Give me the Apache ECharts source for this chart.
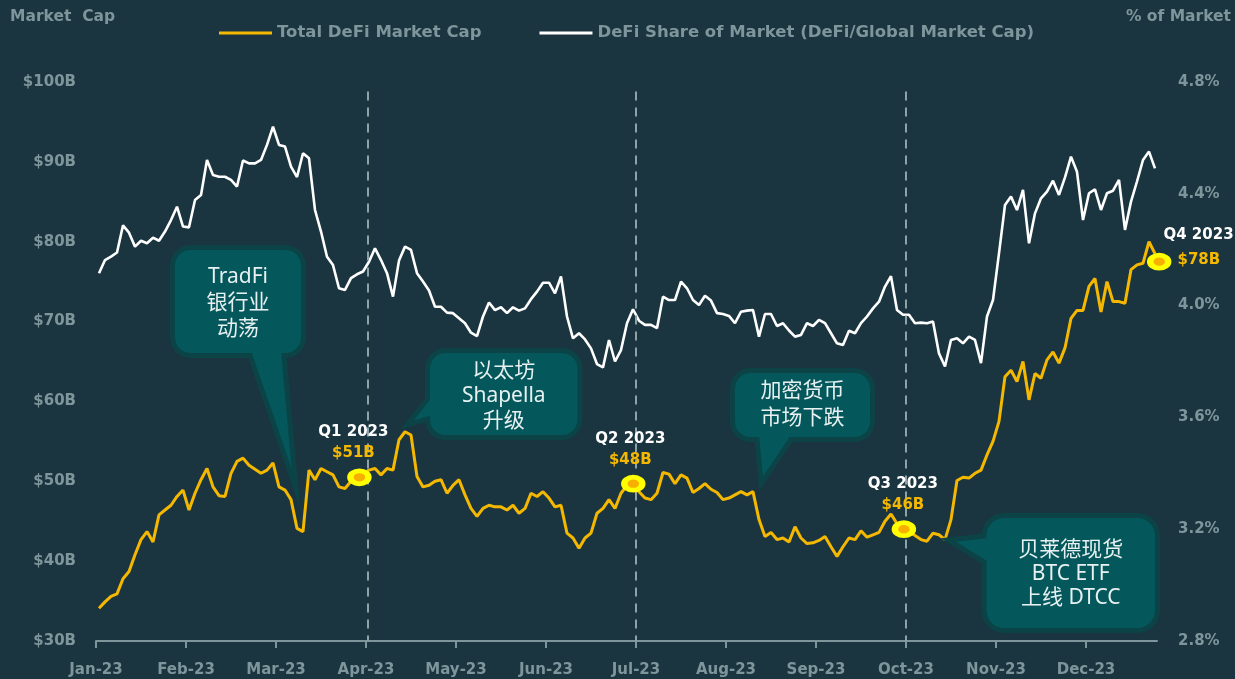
<!DOCTYPE html>
<html>
<head>
<meta charset="utf-8">
<title>DeFi Market Cap 2023</title>
<script src="https://cdn.jsdelivr.net/npm/echarts@6.0.0/dist/echarts.min.js"></script>
<style>
  html, body { margin: 0; padding: 0; background: #1b3540; }
  #chart { width: 1235px; height: 679px; }
</style>
</head>
<body>
<div id="chart"></div>
<script>
/* ---- data (one reading every 2 days) ---- */

// sample grid: day 1, 3, 5 ... 353 of 2023
const days = [];
for (let d = 1; d <= 353; d += 2) days.push(d);

// Total DeFi Market Cap, $B
const defiCap = [
  34.1, 34.9, 35.6, 35.9, 37.8, 38.7, 40.8, 42.7, 43.7, 42.4,
  45.8, 46.4, 47.0, 48.1, 48.9, 46.4, 48.5, 50.2, 51.6, 49.3,
  48.2, 48.1, 51.0, 52.5, 52.9, 52.0, 51.5, 51.0, 51.4, 52.3,
  49.3, 48.9, 47.7, 44.1, 43.7, 51.4, 50.2, 51.6, 51.2, 50.8,
  49.3, 49.1, 50.0, 50.6, 50.9,
  51.4, 51.6, 50.8, 51.6, 51.4, 55.2, 56.2, 55.8, 50.6, 49.3,
  49.5, 50.0, 50.2, 48.5, 49.5, 50.2, 48.3, 46.6, 45.6, 46.6,
  47.0, 46.8, 46.8, 46.4, 47.0, 46.0, 46.6, 48.5, 48.1, 48.7,
  47.9, 46.8, 47.0, 43.5, 42.9, 41.6, 42.9, 43.5, 46.0, 46.6,
  47.7, 46.6, 48.5, 49.5, 50.0,
  48.7, 47.9, 47.7, 48.5, 51.1, 50.9, 49.7, 50.8, 50.4, 48.6,
  49.1, 49.7, 49.0, 48.6, 47.7, 47.9, 48.3, 48.7, 48.3, 48.7,
  45.2, 43.1, 43.6, 42.7, 42.9, 42.4, 44.3, 42.9, 42.2, 42.3,
  42.6, 43.1, 41.8, 40.6, 41.8, 42.9, 42.7, 43.8, 43.0, 43.3,
  43.6, 45.0, 45.9, 44.7, 44.1,
  43.7, 43.2, 42.7, 42.5, 43.5, 43.3, 42.7, 45.2, 50.1, 50.5,
  50.4, 51.0, 51.4, 53.3, 55.0, 57.5, 63.1, 63.9, 62.5, 65.0,
  60.2, 63.5, 62.9, 65.2, 66.2, 64.8, 66.7, 70.4, 71.4, 71.4,
  74.4, 75.4, 71.2, 75.0, 72.5, 72.5, 72.3, 76.5, 77.1, 77.3,
  80.0, 78.5
];

// DeFi share of global crypto market cap, %
const defiShare = [
  4.116, 4.163, 4.175, 4.190, 4.287, 4.261, 4.211, 4.232, 4.223, 4.243,
  4.232, 4.265, 4.306, 4.354, 4.283, 4.280, 4.378, 4.396, 4.521, 4.467,
  4.461, 4.461, 4.450, 4.426, 4.519, 4.509, 4.509, 4.521, 4.575, 4.640,
  4.575, 4.569, 4.497, 4.460, 4.545, 4.527, 4.342, 4.265, 4.175, 4.145,
  4.062, 4.056, 4.098, 4.112, 4.122,
  4.157, 4.205, 4.163, 4.116, 4.032, 4.161, 4.211, 4.199, 4.116, 4.086,
  4.054, 3.996, 3.996, 3.975, 3.973, 3.955, 3.937, 3.903, 3.891, 3.961,
  4.011, 3.984, 3.994, 3.973, 3.994, 3.982, 3.990, 4.023, 4.050, 4.082,
  4.082, 4.044, 4.104, 3.961, 3.883, 3.901, 3.879, 3.847, 3.791, 3.779,
  3.877, 3.800, 3.841, 3.937, 3.987,
  3.946, 3.931, 3.931, 3.919, 4.032, 4.020, 4.020, 4.086, 4.062, 4.020,
  4.002, 4.035, 4.018, 3.973, 3.970, 3.963, 3.937, 3.978, 3.982, 3.984,
  3.889, 3.970, 3.970, 3.927, 3.937, 3.911, 3.889, 3.895, 3.937, 3.927,
  3.949, 3.937, 3.901, 3.865, 3.859, 3.910, 3.901, 3.937, 3.961, 3.990,
  4.014, 4.068, 4.105, 3.984, 3.967,
  3.967, 3.937, 3.939, 3.937, 3.943, 3.829, 3.782, 3.877, 3.883, 3.865,
  3.889, 3.877, 3.794, 3.961, 4.020, 4.187, 4.360, 4.390, 4.342, 4.414,
  4.223, 4.330, 4.384, 4.408, 4.447, 4.396, 4.459, 4.533, 4.479, 4.306,
  4.402, 4.416, 4.342, 4.402, 4.411, 4.450, 4.271, 4.372, 4.444, 4.521,
  4.551, 4.491
];

// x axis ticks (every 30 days) and their labels
const monthTicks = [0, 30, 60, 90, 120, 150, 180, 210, 240, 270, 300, 330];
const monthLabels = ['Jan-23', 'Feb-23', 'Mar-23', 'Apr-23', 'May-23', 'Jun-23',
                     'Jul-23', 'Aug-23', 'Sep-23', 'Oct-23', 'Nov-23', 'Dec-23'];

// quarter-end markers
const quarterDays   = [87.8, 179.1, 269.3, 354.4];
const quarterCaps   = [50.5, 49.7, 44.0, 77.5];
const quarterNames  = ['Q1 2023', 'Q2 2023', 'Q3 2023', 'Q4 2023'];
const quarterValues = ['$51B', '$48B', '$46B', '$78B'];

// dashed quarter separators
const quarterLines = [90.5, 180, 270];

/* ---- styles ---- */
const BG = '#1b3540';
const GREY = '#7d959b';
const YELLOW = '#f5b800';
const AXIS_FONT = "'DejaVu Sans', sans-serif";
const NOTE_FONT = "'Noto Sans', 'Noto Sans CJK SC', sans-serif";
const BOX_FILL = '#04575b';
const BOX_EDGE = '#0b4346';

// callout bubbles (annotation layer, pixel placed)
const callouts = [
  { lines: ['TradFi', '银行业', '动荡'], x: 172.5, y: 247.5, w: 131, h: 108, r: 18,
    tail: { side: 'bottom', a: 250, b: 284, tip: [296, 489] }, textY: 303, lh: 26 },
  { lines: ['以太坊', 'Shapella', '升级'], x: 427.5, y: 350.5, w: 152.5, h: 87, r: 18,
    tail: { side: 'left', a: 399, b: 419, tip: [407, 425] }, textY: 396, lh: 25 },
  { lines: ['加密货币', '市场下跌'], x: 732.5, y: 370.5, w: 140, h: 69, r: 18,
    tail: { side: 'bottom', a: 757, b: 791, tip: [761, 484] }, textY: 405, lh: 27 },
  { lines: ['贝莱德现货', 'BTC ETF', '上线 DTCC'], x: 984, y: 515.5, w: 173.5, h: 115, r: 20,
    tail: { side: 'left', a: 536, b: 562, tip: [948, 540] }, textY: 574, lh: 24 }
];

// rounded box + pointer as one polygon outline
function bubblePoints(c) {
  const { x, y, w, h, r, tail } = c;
  const pts = [];
  const arc = (cx, cy, a0) => {
    for (let k = 0; k <= 8; k++) {
      const t = (a0 + k * 90 / 8) * Math.PI / 180;
      pts.push([cx + r * Math.cos(t), cy + r * Math.sin(t)]);
    }
  };
  arc(x + r, y + r, 180);
  arc(x + w - r, y + r, 270);
  arc(x + w - r, y + h - r, 0);
  if (tail.side === 'bottom') pts.push([tail.b, y + h], tail.tip, [tail.a, y + h]);
  arc(x + r, y + h - r, 90);
  if (tail.side === 'left') pts.push([x, tail.b], tail.tip, [x, tail.a]);
  return pts;
}

const graphics = [
  { type: 'text', x: 10, y: 17, z: 100,
    style: { text: 'Market  Cap', fill: GREY, font: `bold 15.5px ${AXIS_FONT}`, verticalAlign: 'middle' } },
  { type: 'text', x: 1231, y: 17, z: 100,
    style: { text: '% of Market', fill: GREY, font: `bold 15.5px ${AXIS_FONT}`, align: 'right', verticalAlign: 'middle' } }
];
callouts.forEach(c => {
  graphics.push({
    type: 'polygon', z: 100, shape: { points: bubblePoints(c) },
    style: { fill: BOX_FILL, stroke: BOX_EDGE, lineWidth: 5, lineJoin: 'miter' }
  });
  graphics.push({
    type: 'text', z: 101, x: c.x + c.w / 2, y: c.textY,
    style: {
      text: c.lines.join('\n'), fill: '#e8f1f1', font: `21px ${NOTE_FONT}`,
      lineHeight: c.lh, align: 'center', verticalAlign: 'middle'
    }
  });
});

// small horizontal nudges so the labels sit where the reference has them
const quarterLabelShift = [-6, -3, -1, 0];

const chart = echarts.init(document.getElementById('chart'), null, { renderer: 'canvas' });

chart.setOption({
  backgroundColor: BG,
  animation: false,
  grid: { left: 96, right: 78, top: 82, bottom: 38, containLabel: false },
  legend: {
    left: 219, top: 23, padding: 0,
    itemWidth: 53, itemHeight: 3, itemGap: 58,
    icon: 'rect',
    data: ['Total DeFi Market Cap', 'DeFi Share of Market (DeFi/Global Market Cap)'],
    textStyle: { color: GREY, fontFamily: AXIS_FONT, fontWeight: 'bold', fontSize: 16.5, lineHeight: 20 }
  },
  xAxis: {
    type: 'value', min: 0, max: 353.67,
    splitLine: { show: false },
    axisLine: { show: true, lineStyle: { color: GREY, width: 2 } },
    axisTick: { show: true, length: 7, lineStyle: { color: GREY, width: 2 }, customValues: monthTicks },
    axisLabel: {
      customValues: monthTicks, margin: 22,
      color: GREY, fontFamily: AXIS_FONT, fontWeight: 'bold', fontSize: 15,
      formatter: v => monthLabels[Math.round(v / 30)] || ''
    }
  },
  yAxis: [
    {
      type: 'value', min: 30, max: 100, interval: 10,
      splitLine: { show: false }, axisLine: { show: false }, axisTick: { show: false },
      axisLabel: { margin: 20, color: GREY, fontFamily: AXIS_FONT, fontWeight: 'bold', fontSize: 15,
                   formatter: v => '$' + v + 'B' }
    },
    {
      type: 'value', min: 2.8, max: 4.8, interval: 0.4,
      splitLine: { show: false }, axisLine: { show: false }, axisTick: { show: false },
      axisLabel: { margin: 21, color: GREY, fontFamily: AXIS_FONT, fontWeight: 'bold', fontSize: 15,
                   formatter: v => v.toFixed(1) + '%' }
    }
  ],
  graphic: graphics,
  series: [
    {
      // quarter separators only
      type: 'line', data: [], z: 1, silent: true,
      markLine: {
        silent: true, symbol: 'none', label: { show: false },
        lineStyle: { color: '#8ea3a8', type: [9, 7], width: 2 },
        data: quarterLines.map(d => [{ coord: [d, 98.8] }, { coord: [d, 30] }])
      }
    },
    {
      name: 'Total DeFi Market Cap', type: 'line', yAxisIndex: 0,
      data: days.map((d, i) => [d, defiCap[i]]),
      symbol: 'none', color: YELLOW, z: 3,
      lineStyle: { color: YELLOW, width: 3 }
    },
    {
      name: 'DeFi Share of Market (DeFi/Global Market Cap)', type: 'line', yAxisIndex: 1,
      data: days.map((d, i) => [d, defiShare[i]]),
      symbol: 'none', color: '#ffffff', z: 2,
      lineStyle: { color: '#ffffff', width: 2.6 }
    },
    {
      type: 'scatter', yAxisIndex: 0, z: 5, clip: false, silent: true,
      symbol: 'circle', symbolSize: [18, 13],
      itemStyle: { color: '#f7b000', borderColor: '#ffff00', borderWidth: 5.5, opacity: 1 },
      label: {
        show: true, position: 'top', distance: 4.5,
        formatter: p => `{q|${quarterNames[p.dataIndex]}}\n{v|${quarterValues[p.dataIndex]}}`,
        rich: {
          q: { color: '#ffffff', fontFamily: AXIS_FONT, fontWeight: 'bold', fontSize: 15, lineHeight: 21 },
          v: { color: YELLOW, fontFamily: AXIS_FONT, fontWeight: 'bold', fontSize: 15, lineHeight: 21 },
          q4: { color: '#ffffff', fontFamily: AXIS_FONT, fontWeight: 'bold', fontSize: 15, lineHeight: 32 },
          v4: { color: YELLOW, fontFamily: AXIS_FONT, fontWeight: 'bold', fontSize: 15, lineHeight: 18,
                padding: [0, 0, 0, 14] }
        }
      },
      data: quarterDays.map((d, i) => {
        const item = { value: [d, quarterCaps[i]], label: { offset: [quarterLabelShift[i], 0] } };
        if (i === quarterDays.length - 1) {
          item.label = {
            position: [16.5, -34], align: 'left', verticalAlign: 'top',
            formatter: `{q4|${quarterNames[i]}}\n{v4|${quarterValues[i]}}`
          };
        }
        return item;
      })
    }
  ]
});
</script>
</body>
</html>
